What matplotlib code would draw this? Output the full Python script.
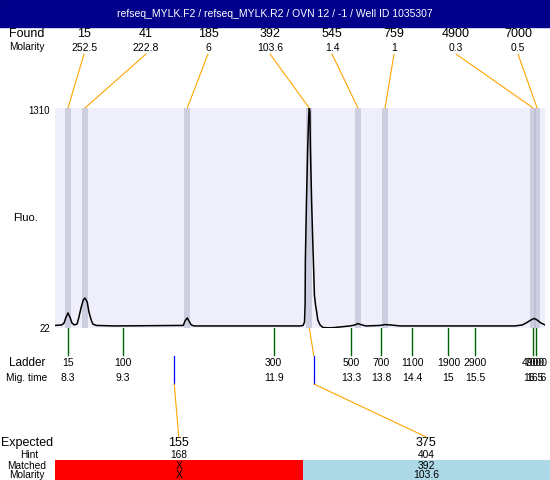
import matplotlib.pyplot as plt
from matplotlib.patches import ConnectionPatch, Rectangle
from matplotlib import transforms

plt.rcParams['font.family'] = ['Liberation Sans', 'DejaVu Sans']

title = "refseq_MYLK.F2 / refseq_MYLK.R2 / OVN 12 / -1 / Well ID 1035307"

# trace: migration time vs fluorescence
trace_t = [8.07, 8.19, 8.23, 8.26, 8.30, 8.34, 8.37, 8.41, 8.46, 8.49, 8.53, 8.57, 8.60,
           8.64, 8.67, 8.71, 8.74, 8.80, 9.13, 10.34, 10.37, 10.41, 10.44, 10.48, 10.53,
           12.41, 12.46, 12.485, 12.495, 12.50, 12.52, 12.54, 12.56, 12.57, 12.58, 12.59,
           12.61, 12.63, 12.65, 12.66, 12.68, 12.70, 12.72, 12.76, 12.81, 12.90, 12.99,
           13.11, 13.29, 13.38, 13.43, 13.48, 13.57, 13.82, 13.91, 14.00, 14.18, 16.21,
           16.34, 16.42, 16.49, 16.55, 16.60, 16.67, 16.74]
trace_f = [37, 40, 51, 81, 110, 81, 51, 40, 45, 81, 139, 186, 198,
           174, 116, 69, 45, 37, 34, 37, 63, 81, 63, 40, 34,
           34, 37, 57, 157, 420, 771, 1064, 1269, 1310, 1287, 1064,
           771, 537, 332, 215, 157, 116, 69, 40, 25, 23, 24,
           28, 34, 40, 48, 42, 34, 37, 42, 40, 34, 34,
           40, 54, 69, 78, 69, 51, 40]
fmin, fmax = 22, 1310

found_size = [15, 41, 185, 392, 545, 759, 4900, 7000]
found_molarity = [252.5, 222.8, 6, 103.6, 1.4, 1, 0.3, 0.5]
found_t = [8.30, 8.60, 10.41, 12.57, 13.43, 13.91, 16.53, 16.60]

ladder_size = [15, 100, 300, 500, 700, 1100, 1900, 2900, 4900, 7000]
ladder_t = [8.3, 9.27, 11.94, 13.31, 13.84, 14.39, 15.03, 15.5, 16.53, 16.58]

expected = [155, 375]
expected_t = [10.18, 12.65]
hint = [168, 404]
matched = [None, 392]
matched_molarity = [None, 103.6]

fig = plt.figure(figsize=(5.5, 4.8), dpi=100)

# overlay in pixel coords for the table parts
ov = fig.add_axes([0, 0, 1, 1])
ov.set_xlim(0, 550)
ov.set_ylim(480, 0)
ov.axis('off')

ax = fig.add_axes([55 / 550, 152 / 480, 490 / 550, 220 / 480])
ax.set_xlim(8.07, 16.74)
ax.set_ylim(fmin, fmax)
ax.set_facecolor('#efeffb')
for s in ax.spines.values():
    s.set_visible(False)
ax.set_xticks([])
ax.set_yticks([])

for t in found_t:
    ax.axvspan(t - 0.053, t + 0.053, color='#b4b4cc', alpha=0.55, lw=0)
ax.plot(trace_t, trace_f, color='black', lw=1.1)

bt = transforms.blended_transform_factory(ax.transData, ov.transData)

# title bar
ov.add_patch(Rectangle((0, 0), 550, 27, color='#00008b'))
ov.text(275, 14, title, color='white', ha='center', va='center', fontsize=7.5)

# found row
ov.text(27, 34, "Found", ha='center', va='center', fontsize=9)
ov.text(27, 47, "Molarity", ha='center', va='center', fontsize=7.3)
for i in range(len(found_size)):
    lx = 84 + 62 * i
    ov.text(lx, 34, str(found_size[i]), ha='center', va='center', fontsize=9)
    ov.text(lx, 48, f"{found_molarity[i]:g}", ha='center', va='center', fontsize=7.5)
    con = ConnectionPatch(xyA=(lx, 54), coordsA=ov.transData,
                          xyB=(found_t[i], fmax), coordsB=ax.transData,
                          color='orange', lw=0.8)
    fig.add_artist(con)

# y labels
ov.text(50, 111, "1310", ha='right', va='center', fontsize=7)
ov.text(50, 329, "22", ha='right', va='center', fontsize=7)
ov.text(25, 218, "Fluo.", ha='center', va='center', fontsize=8)

# ladder
ov.text(27, 363, "Ladder", ha='center', va='center', fontsize=8.5)
ov.text(27, 378, "Mig. time", ha='center', va='center', fontsize=7.3)
for s, t in zip(ladder_size, ladder_t):
    ov.plot([t, t], [328, 355], color='#006400', lw=1.0, transform=bt)
    ov.text(t, 363, str(s), ha='center', va='center', fontsize=7.5, transform=bt)
    ov.text(t, 378, f"{round(t, 1):g}", ha='center', va='center', fontsize=7.5, transform=bt)

# expected table
ov.text(27, 443, "Expected", ha='center', va='center', fontsize=9)
ov.text(29, 455, "Hint", ha='center', va='center', fontsize=7.3)
ov.text(27, 466, "Matched", ha='center', va='center', fontsize=7.3)
ov.text(27, 475, "Molarity", ha='center', va='center', fontsize=7.3)
col_w = 495 / len(expected)
for i in range(len(expected)):
    x0 = 55 + col_w * i
    cx = x0 + col_w / 2
    found = matched[i] is not None
    ov.add_patch(Rectangle((x0, 460), col_w, 20, color='#add8e6' if found else 'red', lw=0))
    ov.text(cx, 443, str(expected[i]), ha='center', va='center', fontsize=9)
    ov.text(cx, 455, str(hint[i]), ha='center', va='center', fontsize=7.3)
    ov.text(cx, 466, str(matched[i]) if found else "X", ha='center', va='center', fontsize=7.5)
    ov.text(cx, 475, f"{matched_molarity[i]:g}" if found else "X", ha='center', va='center', fontsize=7.5)

    te = expected_t[i]
    ov.plot([te, te], [356, 384], color='blue', lw=0.9, transform=bt)
    fig.add_artist(ConnectionPatch(xyA=(te, 384), coordsA=bt, xyB=(cx, 437),
                                   coordsB=ov.transData, color='orange', lw=0.8))
    if found:
        tp = found_t[found_size.index(matched[i])]
        fig.add_artist(ConnectionPatch(xyA=(tp, fmin), coordsA=ax.transData,
                                       xyB=(te, 356), coordsB=bt, color='orange', lw=0.8))

plt.savefig('out.png', dpi=100)
